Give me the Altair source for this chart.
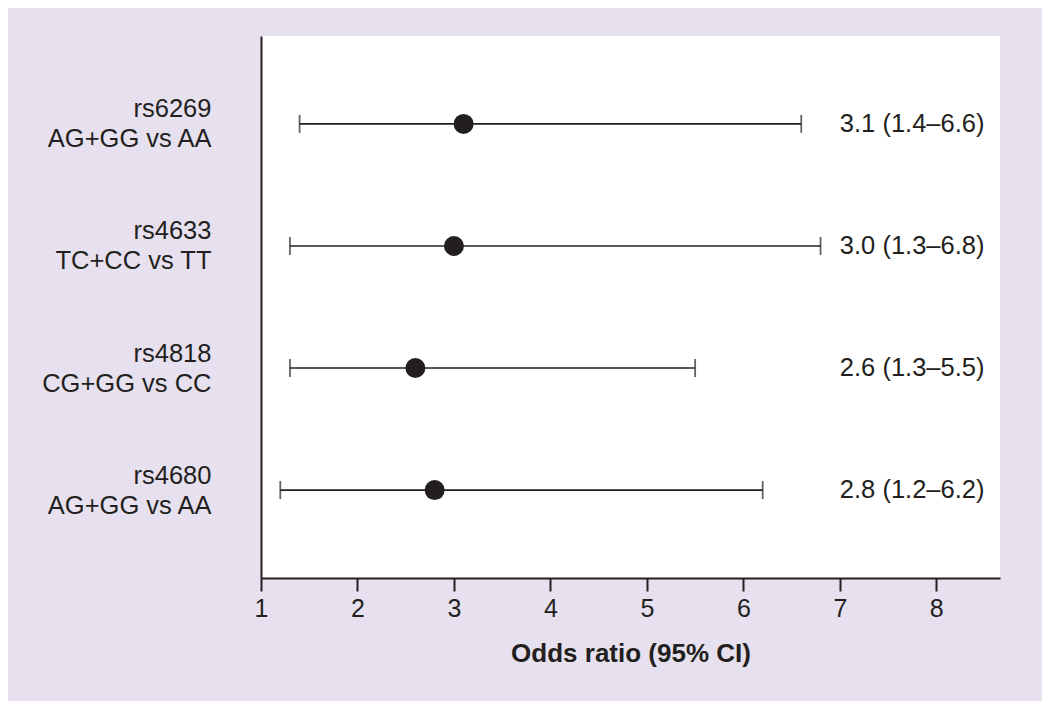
import altair as alt
import pandas as pd

snps = ["rs6269", "rs4633", "rs4818", "rs4680"]
comparisons = ["AG+GG vs AA", "TC+CC vs TT", "CG+GG vs CC", "AG+GG vs AA"]
odds = [3.1, 3.0, 2.6, 2.8]
ci_low = [1.4, 1.3, 1.3, 1.2]
ci_high = [6.6, 6.8, 5.5, 6.2]
x_ticks = [1, 2, 3, 4, 5, 6, 7, 8]

rows = [f"{s}|{c}|{i}" for i, (s, c) in enumerate(zip(snps, comparisons))]
df = pd.DataFrame({
    "row": rows,
    "odds": odds,
    "lo": ci_low,
    "hi": ci_high,
    "txt": [f"{o:.1f} ({l:.1f}\u2013{h:.1f})" for o, l, h in zip(odds, ci_low, ci_high)],
})

INK = "#231F20"
FONT = "Liberation Sans"

y_enc = alt.Y(
    "row:N",
    sort=rows,
    scale=alt.Scale(type="point", padding=0.72),
    axis=alt.Axis(
        title=None,
        ticks=False,
        labelExpr="[split(datum.value, '|')[0], split(datum.value, '|')[1]]",
        labelFontSize=25.5,
        labelLineHeight=30,
        labelOffset=-15,
        labelPadding=50,
        labelColor=INK,
        labelFont=FONT,
        labelAlign="right",
        labelBaseline="middle",
        domainColor=INK,
        domainWidth=2,
        grid=False,
    ),
)

x_scale = alt.Scale(domain=[1, 8.66], nice=False, zero=False)
x_enc = alt.X(
    "lo:Q",
    scale=x_scale,
    axis=alt.Axis(
        title="Odds ratio (95% CI)",
        values=x_ticks,
        format="d",
        grid=False,
        tickSize=13,
        tickWidth=2,
        tickColor=INK,
        domainColor=INK,
        domainWidth=2,
        labelFontSize=25,
        labelFont=FONT,
        labelColor=INK,
        labelPadding=5,
        labelFlush=False,
        titleFontSize=26,
        titleFont=FONT,
        titleFontWeight="bold",
        titleColor=INK,
        titlePadding=19,
    ),
)

base = alt.Chart(df)

rule = base.mark_rule(color=INK, strokeWidth=1.6).encode(x=x_enc, x2="hi:Q", y=y_enc)
cap_lo = base.mark_tick(color=INK, thickness=1.8, size=18).encode(x="lo:Q", y=y_enc)
cap_hi = base.mark_tick(color=INK, thickness=1.8, size=18).encode(x="hi:Q", y=y_enc)
pts = base.mark_circle(color=INK, opacity=1, size=400).encode(x="odds:Q", y=y_enc)
txt = base.mark_text(align="left", baseline="middle", fontSize=25.5, font=FONT, color=INK).encode(
    x=alt.datum(7), y=y_enc, text="txt:N"
)

chart = (
    alt.layer(rule, cap_lo, cap_hi, pts, txt)
    .properties(
        width=739,
        height=542,
        background="#E7E1EF",
        padding={"left": 253, "top": 28, "right": 42, "bottom": 123},
        autosize=alt.AutoSizeParams(type="none"),
    )
    .configure_view(fill="white", stroke=None)
)

chart.save("out.html", embed_options={"renderer": "svg", "actions": False})
